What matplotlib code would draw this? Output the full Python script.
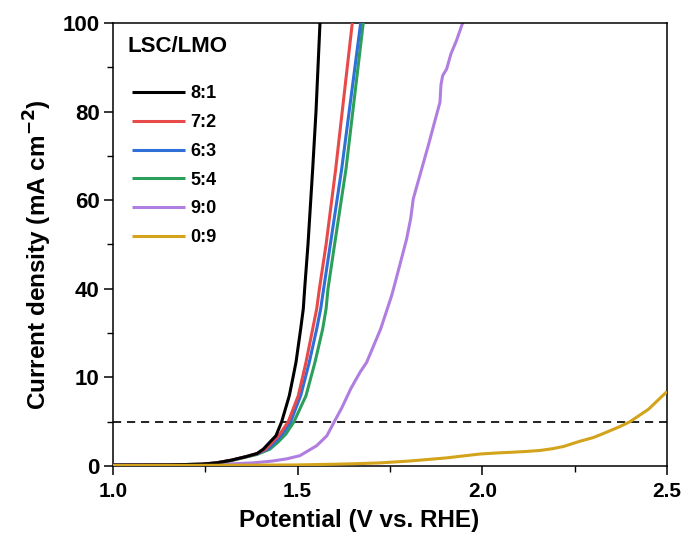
import numpy as np
import matplotlib
matplotlib.use("Agg")
import matplotlib.pyplot as plt

plt.rcParams['font.family'] = ['Liberation Sans', 'DejaVu Sans']
plt.rcParams['font.weight'] = 'bold'

# LSV curves: potential (V vs. RHE) and current density (mA cm-2)
v_81 = [1.00, 1.15, 1.24, 1.28, 1.32, 1.36, 1.39, 1.407, 1.425, 1.4414, 1.4568, 1.4774, 1.4866,
        1.4955, 1.5082, 1.5153, 1.519, 1.528, 1.5407, 1.5497, 1.5605]
j_81 = [0.1, 0.12, 0.2, 0.35, 0.65, 1.05, 1.4, 1.9, 2.7, 3.42, 5.0, 7.93, 9.82,
        15.1, 26.4, 33.2, 40, 50, 67, 80, 100]

v_72 = [1.00, 1.15, 1.24, 1.28, 1.32, 1.36, 1.39, 1.413, 1.432, 1.452, 1.4746, 1.5017,
        1.5226, 1.5407, 1.5516, 1.5589, 1.577, 1.603, 1.6207, 1.648]
j_72 = [0.1, 0.12, 0.2, 0.35, 0.65, 1.05, 1.4, 1.9, 2.7, 3.6, 5.0, 7.93,
        15.1, 26.4, 33.2, 40, 50, 67, 80, 100]

v_63 = [1.00, 1.15, 1.24, 1.28, 1.32, 1.36, 1.39, 1.419, 1.439, 1.459, 1.4811, 1.5082,
        1.5315, 1.5516, 1.5624, 1.5704, 1.5885, 1.6192, 1.6395, 1.6707]
j_63 = [0.1, 0.12, 0.2, 0.35, 0.65, 1.05, 1.4, 1.9, 2.7, 3.6, 5.0, 7.93,
        15.1, 26.4, 33.2, 40, 50, 67, 80, 100]

v_54 = [1.00, 1.15, 1.24, 1.28, 1.32, 1.36, 1.39, 1.425, 1.447, 1.468, 1.4901, 1.5226,
        1.5469, 1.5678, 1.577, 1.5822, 1.600, 1.6309, 1.6493, 1.6777]
j_54 = [0.1, 0.12, 0.2, 0.33, 0.6, 1.0, 1.3, 1.9, 2.7, 3.6, 5.0, 7.93,
        15.1, 26.4, 33.2, 40, 50, 67, 80, 100]

v_90 = [1.00, 1.20, 1.30, 1.38, 1.43, 1.47, 1.506, 1.5515, 1.579, 1.5984, 1.62, 1.6436, 1.6688,
        1.6869, 1.7248, 1.7546, 1.766, 1.795, 1.806, 1.8131, 1.8357, 1.8537, 1.872, 1.8854,
        1.888, 1.8927, 1.9035, 1.915, 1.93, 1.9468]
j_90 = [0.08, 0.12, 0.2, 0.35, 0.55, 0.8, 1.16, 2.29, 3.4, 4.93, 6.6, 8.7, 11.7,
        15.1, 26.4, 37.7, 42, 51.2, 55.8, 60.3, 67, 72.3, 78, 82.1,
        86, 88.1, 89.6, 93, 96, 100]

v_09 = [1.00, 1.30, 1.50, 1.60, 1.66, 1.723, 1.80, 1.90, 1.994, 2.04, 2.08, 2.12, 2.156, 2.19,
        2.22, 2.265, 2.30, 2.33, 2.37, 2.40, 2.45, 2.50]
j_09 = [0.05, 0.08, 0.12, 0.2, 0.26, 0.35, 0.55, 0.9, 1.35, 1.47, 1.55, 1.64, 1.75, 1.95,
        2.2, 2.8, 3.2, 3.7, 4.4, 5.0, 6.4, 8.4]

labels = ['8:1', '7:2', '6:3', '5:4', '9:0', '0:9']
colors = ['#000000', '#e84a4a', '#2e6fd8', '#2ca05a', '#b07ee0', '#d4a31c']
zorders = [6, 5, 4, 3, 2, 7]

x_ticks = [1.0, 1.5, 2.0, 2.5]
y_ticks = [0, 10, 40, 60, 80, 100]
y_minor = [5, 25, 50, 70, 90]
ref_current = 5


# piecewise y axis: 0-10, 10-40 and 40-100 each get equal room per tick step
def fwd(y):
    y = np.asarray(y, dtype=float)
    return np.where(y <= 10, y, np.where(y <= 40, 10 + (y - 10) / 3, 20 + (y - 40) / 2))


def inv(f):
    f = np.asarray(f, dtype=float)
    return np.where(f <= 10, f, np.where(f <= 20, 10 + (f - 10) * 3, 40 + (f - 20) * 2))


fig = plt.figure(figsize=(6.89, 5.45), dpi=100)
ax = fig.add_axes([0.164, 0.145, 0.804, 0.813])

curves = [(v_81, j_81), (v_72, j_72), (v_63, j_63), (v_54, j_54), (v_90, j_90), (v_09, j_09)]
for (v, j), lab, c, z in zip(curves, labels, colors, zorders):
    ax.plot(v, j, color=c, lw=2.2, label=lab, zorder=z, solid_capstyle='butt')

ax.axhline(ref_current, color='#222222', lw=1.4, ls=(0, (4.2, 3)), zorder=1)

ax.set_yscale('function', functions=(fwd, inv))
ax.set_xlim(1.0, 2.5)
ax.set_ylim(0, 100)
ax.set_xticks(x_ticks)
ax.set_xticks([1.25, 1.75, 2.25], minor=True)
ax.set_yticks(y_ticks)
ax.set_yticks(y_minor, minor=True)
ax.set_xticklabels([f'{t:.1f}' for t in x_ticks])
ax.set_yticklabels([str(t) for t in y_ticks])

ax.tick_params(axis='both', which='major', direction='out', length=6.5, width=1.1)
ax.tick_params(axis='both', which='minor', direction='out', length=4, width=1.0)
ax.tick_params(axis='x', which='major', labelsize=15, pad=5)
ax.tick_params(axis='y', which='major', labelsize=16, pad=3)
for lbl in ax.get_xticklabels() + ax.get_yticklabels():
    lbl.set_fontweight('bold')
for s in ax.spines.values():
    s.set_linewidth(1.1)

ax.set_xlabel('Potential (V vs. RHE)', fontsize=17.5, fontweight='bold', labelpad=6)
ax.set_ylabel('Current density (mA cm$^{\\mathbf{-2}}$)', fontsize=17.5, fontweight='bold',
              labelpad=6)
ax.xaxis.label.set_x(0.444)
ax.yaxis.label.set_y(0.477)

ax.text(0.027, 0.9465, 'LSC/LMO', transform=ax.transAxes, ha='left', va='center',
        fontsize=16, fontweight='bold')
leg = ax.legend(loc='upper left', bbox_to_anchor=(0.0338, 0.859), frameon=False,
                fontsize=13, handlelength=2.93, labelspacing=0.65,
                borderaxespad=0, borderpad=0, handletextpad=0.3)
for t in leg.get_texts():
    t.set_fontweight('bold')

fig.savefig('out.png', dpi=100)
